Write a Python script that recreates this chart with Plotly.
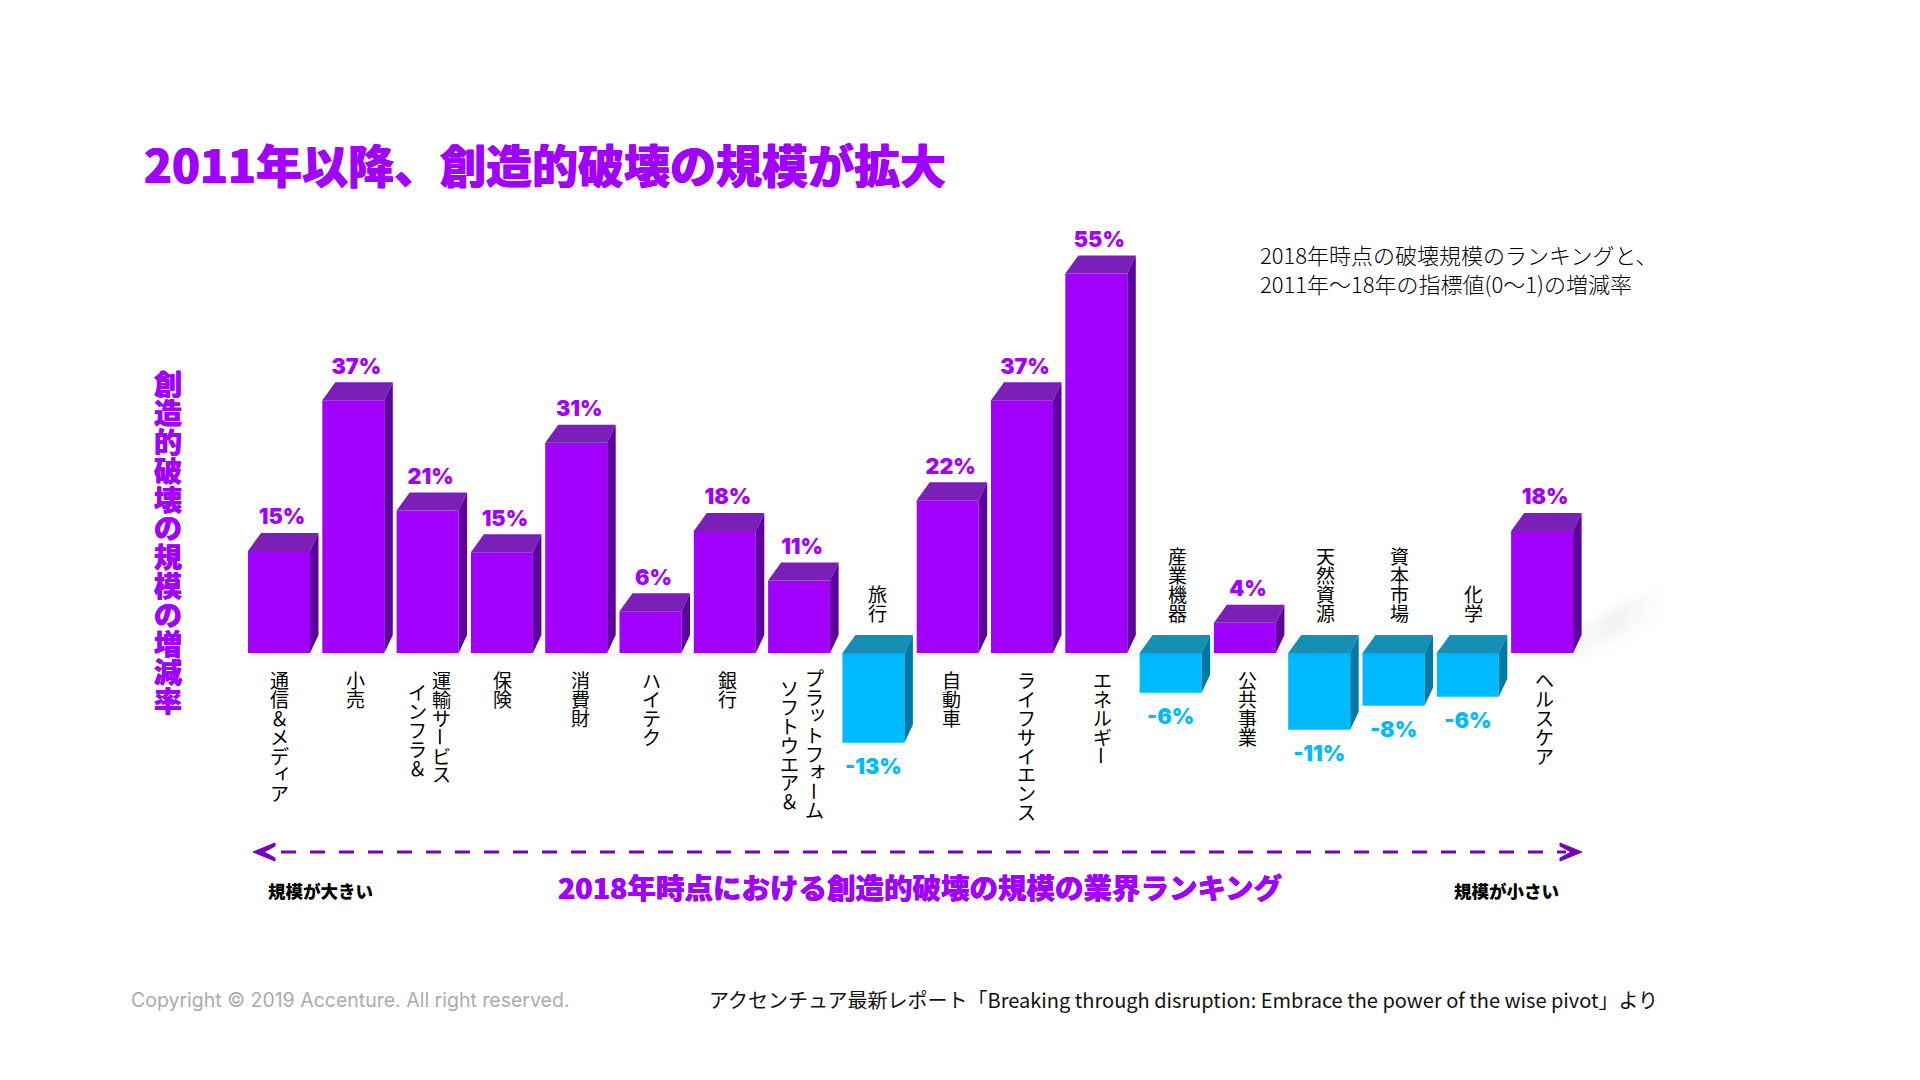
import plotly.graph_objects as go

# ---------- data ----------
ranks = list(range(1, 19))
industries = ["通信&メディア", "小売", "インフラ&運輸サービス", "保険", "消費財", "ハイテク", "銀行",
              "ソフトウエア&プラットフォーム", "旅行", "自動車", "ライフサイエンス", "エネルギー",
              "産業機器", "公共事業", "天然資源", "資本市場", "化学", "ヘルスケア"]
change_pct = [14.9, 36.9, 20.8, 14.7, 30.7, 6.1, 17.8, 10.6, -13.1, 22.3, 36.9, 55.4,
              -5.8, 4.4, -11.2, -7.7, -6.4, 17.8]

# vertical label columns: (text, column x px, first/last glyph y px, anchored at top?)
label_columns = [
    ("通信＆メディア", 279, 670, True), ("小売", 355, 670, True),
    ("運輸サービス", 441, 670, True), ("インフラ＆", 417, 682, True),
    ("保険", 502, 670, True), ("消費財", 580, 670, True), ("ハイテク", 651, 670, True),
    ("銀行", 727, 670, True), ("プラットフォーム", 814, 668, True), ("ソフトウエア＆", 789, 678, True),
    ("旅行", 877, 622, False), ("自動車", 951, 670, True), ("ライフサイエンス", 1026, 670, True),
    ("エネルギー", 1102, 670, True), ("産業機器", 1177, 622, False), ("公共事業", 1247, 670, True),
    ("天然資源", 1325, 622, False), ("資本市場", 1399, 622, False), ("化学", 1473, 622, False),
    ("ヘルスケア", 1544, 670, True),
]

# ---------- style / layout ----------
W, H = 1920, 1080
PURPLE, BLUE = "#A100FF", "#00BAFF"
PURPLE_TOP, PURPLE_SIDE = "#7A1FB8", "#5E009E"
BLUE_TOP, BLUE_SIDE = "#1590B3", "#0079A6"
ARROW = "#7500C0"
JP = "Noto Sans CJK JP"
BASE_PX, PX_PER_PCT = 653, 6.85
DEPTH_Y = 18 / PX_PER_PCT
BACK_L, BACK_R = 13, 8.5
BAR_W = 62


def bar_left(rank):
    return 248 + 74.3 * (rank - 1)


lefts = [bar_left(r) for r in ranks]
centers = [l + BAR_W / 2 for l in lefts]
colors = [PURPLE if v >= 0 else BLUE for v in change_pct]


def px(x, y):
    return x / W, 1 - y / H


def y_of(p):
    return (BASE_PX - p) / PX_PER_PCT


fig = go.Figure()


def poly(xs, ys, color):
    fig.add_trace(go.Scatter(x=xs, y=ys, mode="lines", fill="toself", fillcolor=color,
                             line=dict(width=0), hoverinfo="skip", showlegend=False))


def soft(xs, ps, kind, scale):
    fig.add_trace(go.Scatter(x=xs, y=[y_of(p) for p in ps], mode="lines", fill="toself",
                             line=dict(width=0), hoverinfo="skip", showlegend=False,
                             fillgradient=dict(type=kind, colorscale=scale)))


# soft ground shadow
for g, a in ((18, 0.008), (12, 0.012), (7, 0.014), (2, 0.014)):
    soft([1578, 1662 + g, 1664 + g, 1578], [634 - g, 590 - g, 600 + g, 650 + g], "horizontal",
         [[0, f"rgba(0,0,0,{a*0.5})"], [0.4, f"rgba(0,0,0,{a})"], [1, "rgba(0,0,0,0)"]])
soft([249, 1575, 1575, 249], [653, 653, 660, 660], "vertical", [[0, "rgba(0,0,0,0)"], [1, "rgba(0,0,0,0.05)"]])
soft([1140, 1510, 1510, 1140], [653, 653, 630, 630], "vertical", [[0, "rgba(0,0,0,0.035)"], [1, "rgba(0,0,0,0)"]])

# 3-D faces built from the values
faces = {PURPLE_TOP: ([], []), PURPLE_SIDE: ([], []), BLUE_TOP: ([], []), BLUE_SIDE: ([], [])}
for l, v in zip(lefts, change_pct):
    top, bot = max(v, 0), min(v, 0)
    r = l + BAR_W
    tc, sc = (PURPLE_TOP, PURPLE_SIDE) if v >= 0 else (BLUE_TOP, BLUE_SIDE)
    faces[tc][0].extend([l, r, r + BACK_R, l + BACK_L, l, None])
    faces[tc][1].extend([top, top, top + DEPTH_Y, top + DEPTH_Y, top, None])
    faces[sc][0].extend([r, r + BACK_R, r + BACK_R, r, r, None])
    faces[sc][1].extend([bot, bot + DEPTH_Y, top + DEPTH_Y, top, bot, None])
for c, (xs, ys) in faces.items():
    poly(xs, ys, c)

# front faces
fig.add_trace(go.Bar(x=centers, y=change_pct, width=BAR_W, marker=dict(color=colors, line=dict(width=0)),
                     customdata=industries, hovertemplate="%{customdata}: %{y}%<extra></extra>",
                     showlegend=False))

# value labels
lab_x = [c + (3 if v >= 0 else 0) for c, v in zip(centers, change_pct)]
lab_y = [v + DEPTH_Y + 14 / PX_PER_PCT if v >= 0 else v - 26 / PX_PER_PCT for v in change_pct]
fig.add_trace(go.Scatter(x=lab_x, y=lab_y, mode="text", text=[f"{round(v)}%" for v in change_pct],
                         textposition="middle center",
                         textfont=dict(family="Inter", size=21.5, weight=900, color=colors),
                         hoverinfo="skip", showlegend=False))

# ---------- texts ----------
ann = []


def thick(color, d=0.7):
    return f"{d}px 0 0 {color}, -{d}px 0 0 {color}"


def text(s, x, y, size, color="#000", weight=400, family=JP, anchor="left", angle=0, shadow=None):
    xp, yp = px(x, y)
    font = dict(family=family, size=size, color=color, weight=weight)
    if shadow:
        font["shadow"] = shadow
    ann.append(dict(text=s, x=xp, y=yp, xref="paper", yref="paper", xanchor=anchor, yanchor="middle",
                    showarrow=False, textangle=angle, borderpad=0, font=font))


SMALL = "ィッォュェァャョ"


def vertical(s, x, y0, pitch, size, color="#000", weight=400, shadow=None):
    for i, ch in enumerate(s):
        cy = y0 + pitch * (i + 0.5)
        if ch == "ー":
            text(ch, x, cy, size, color, weight, anchor="center", angle=90, shadow=shadow)
        elif ch in SMALL:
            text(ch, x + 0.2 * size, cy - 0.2 * size, size, color, weight, anchor="center", shadow=shadow)
        else:
            text(ch, x, cy, size, color, weight, anchor="center", shadow=shadow)


PITCH = 18.9
for s, x, y, at_top in label_columns:
    vertical(s, x, y if at_top else y - PITCH * len(s), PITCH, 19)
vertical("創造的破壊の規模の増減率", 168, 369, 28.8, 28, PURPLE, 900, thick(PURPLE, 0.25))

text("2011年以降、創造的破壊の規模が拡大", 143, 163, 46, PURPLE, 900, shadow=thick(PURPLE, 0.5))
text("2018年時点の破壊規模のランキングと、", 1259, 254, 22, "#000", 300)
text("2011年～18年の指標値(0～1)の増減率", 1259, 283, 22, "#000", 300)
text("2018年時点における創造的破壊の規模の業界ランキング", 557, 886, 28.5, PURPLE, 900, shadow=thick(PURPLE, 0.25))
text("規模が大きい", 267, 890, 17.5, "#000", 900)
text("規模が小さい", 1453, 890, 17.5, "#000", 900)
text("Copyright © 2019 Accenture. All right reserved.", 130, 1000, 19.5, "#ABABAB", 400, "Inter")
text("アクセンチュア最新レポート「Breaking through disruption: Embrace the power of the wise pivot」より",
     708, 999, 20, "#111", 400)

# ---------- ranking arrow ----------
shapes = []
x0, y0 = px(281, 852)
x1, y1 = px(1566, 852)
shapes.append(dict(type="line", xref="paper", yref="paper", x0=x0, y0=y0, x1=x1, y1=y1,
                   line=dict(color=ARROW, width=3, dash="15px,14px")))


def chevron(tip, d):
    pts = [(tip, 852), (tip + d * 22, 843), (tip + d * 22, 846), (tip + d * 11, 852),
           (tip + d * 22, 858), (tip + d * 22, 861)]
    path = "M " + " L ".join("{:.5f},{:.5f}".format(*px(a, b)) for a, b in pts) + " Z"
    shapes.append(dict(type="path", xref="paper", yref="paper", path=path,
                       fillcolor=ARROW, line=dict(color=ARROW, width=1)))


chevron(253, 1)
chevron(1582, -1)

fig.update_layout(
    width=W, height=H, margin=dict(l=0, r=0, t=0, b=0), autosize=False,
    paper_bgcolor="white", plot_bgcolor="white", showlegend=False, barmode="overlay",
    xaxis=dict(range=[0, W], visible=False, fixedrange=True),
    yaxis=dict(range=[(BASE_PX - H) / PX_PER_PCT, BASE_PX / PX_PER_PCT], visible=False, fixedrange=True),
    annotations=ann, shapes=shapes,
)
fig.write_html("out.html", config={"displayModeBar": False},
               post_script="document.body.style.margin='0';document.body.style.overflow='hidden';")
